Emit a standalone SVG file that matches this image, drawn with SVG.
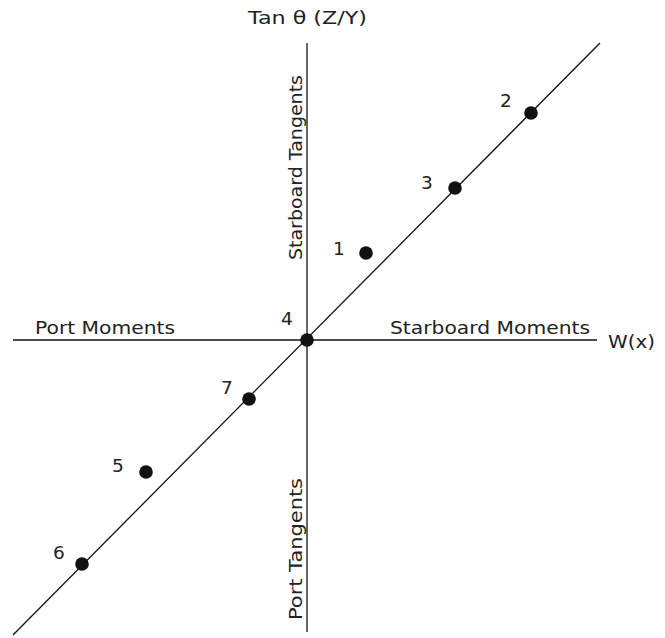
<svg xmlns="http://www.w3.org/2000/svg" width="665" height="638" viewBox="0 0 665 638">
<style>
.ax{stroke:#111;stroke-width:1.3;fill:none}
.pt{fill:#111}
text{font-family:"DejaVu Sans","Liberation Sans",sans-serif;font-size:18.5px;fill:#222}
</style>
<rect width="665" height="638" fill="#fff"/>
<g id="connectors">
<line class="ax" x1="13" y1="340" x2="597" y2="340"/>
<line class="ax" x1="307" y1="43" x2="307" y2="632"/>
<line class="ax" x1="600" y1="43" x2="13" y2="635"/>
</g>
<g id="labels">
<text x="248" y="24" textLength="119" lengthAdjust="spacingAndGlyphs">Tan θ (Z/Y)</text>
<text x="608" y="348" textLength="47" lengthAdjust="spacingAndGlyphs">W(x)</text>
<text x="35" y="334" textLength="140" lengthAdjust="spacingAndGlyphs">Port Moments</text>
<text x="390" y="334" textLength="200" lengthAdjust="spacingAndGlyphs">Starboard Moments</text>
<text transform="translate(302,260) rotate(-90)" textLength="185" lengthAdjust="spacingAndGlyphs">Starboard Tangents</text>
<text transform="translate(302,620) rotate(-90)" textLength="142" lengthAdjust="spacingAndGlyphs">Port Tangents</text>
</g>
<g id="p1"><circle class="pt" cx="366" cy="253" r="6.8"/><text x="333" y="255">1</text></g>
<g id="p2"><circle class="pt" cx="531" cy="113" r="6.8"/><text x="500" y="107">2</text></g>
<g id="p3"><circle class="pt" cx="455" cy="188" r="6.8"/><text x="421" y="189">3</text></g>
<g id="p4"><circle class="pt" cx="307" cy="340" r="6.8"/><text x="281" y="325">4</text></g>
<g id="p5"><circle class="pt" cx="146" cy="472" r="6.8"/><text x="112" y="472">5</text></g>
<g id="p6"><circle class="pt" cx="82" cy="564" r="6.8"/><text x="53" y="559">6</text></g>
<g id="p7"><circle class="pt" cx="249" cy="399" r="6.8"/><text x="221" y="394">7</text></g>
</svg>
